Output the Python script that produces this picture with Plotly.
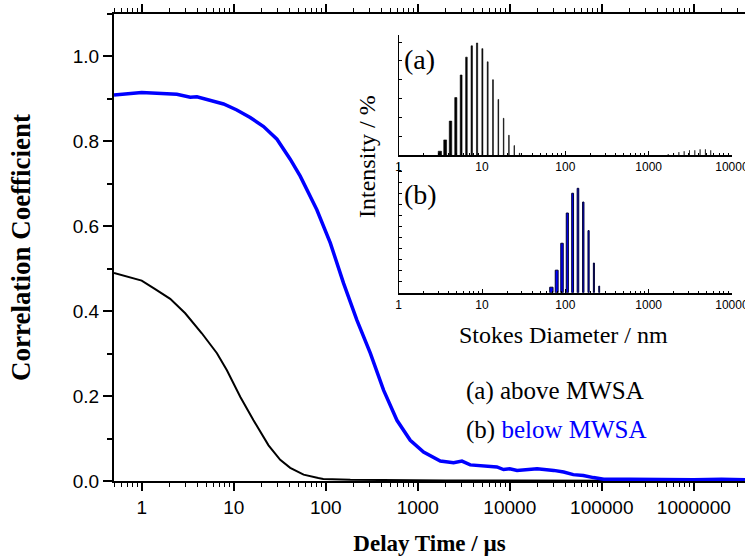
import plotly.graph_objects as go

# Correlation functions: delay time (µs) and correlation coefficient
t_above = [0.5, 1, 1.4, 2.04, 2.97, 4.5, 6.57, 8.43, 11.8, 16.4, 23.9, 32, 41.1,
           57.4, 83, 94, 185, 500, 2000, 1e4, 1e5, 1e6, 3.6e6]
g_above = [0.490, 0.472, 0.452, 0.429, 0.395, 0.348, 0.301, 0.261, 0.198, 0.143,
           0.084, 0.050, 0.031, 0.015, 0.007, 0.005, 0.003, 0.002, 0.001, 0.001,
           0.0, 0.0, 0.0]

t_below = [0.5, 1, 2.41, 3.37, 3.98, 7.75, 10.8, 15.1, 21.1, 29.5, 41.1, 52.8, 80,
           112, 156, 218, 305, 425, 594, 829, 1156, 1757, 2450, 3020, 3720, 6140,
           7240, 8550, 1e4, 1.2e4, 1.4e4, 1.98e4, 3e4, 3.85e4, 4.9e4, 6.3e4, 8.1e4,
           1.05e5, 2e5, 5e5, 1e6, 2e6, 3.6e6]
g_below = [0.909, 0.915, 0.911, 0.904, 0.905, 0.888, 0.874, 0.856, 0.835, 0.805,
           0.758, 0.718, 0.639, 0.561, 0.466, 0.379, 0.301, 0.214, 0.143, 0.096,
           0.068, 0.047, 0.043, 0.047, 0.038, 0.034, 0.033, 0.027, 0.029, 0.025,
           0.026, 0.029, 0.025, 0.021, 0.015, 0.013, 0.008, 0.004, 0.004, 0.003,
           0.003, 0.004, 0.003]

# Intensity size distributions: Stokes diameter (nm) and intensity (%)
d_above = [3.122, 3.615, 4.187, 4.849, 5.615, 6.503, 7.531, 8.721, 10.10, 11.70,
           13.54, 15.69, 18.17, 21.04, 24.36, 28.21,
           1718, 1990, 2305, 2669, 3091, 3580, 4145, 4801, 5560]
i_above = [0.4, 1.6, 3.6, 6.1, 8.5, 10.4, 11.6, 11.9, 11.3, 9.9, 8.0, 5.9, 3.9,
           2.1, 1.0, 0.2,
           0.1, 0.2, 0.3, 0.4, 0.5, 0.5, 0.6, 0.6, 0.5]

d_below = [68.06, 78.82, 91.28, 105.7, 122.4, 141.8, 164.2, 190.1, 220.2, 255.0]
i_below = [1.0, 4.1, 9.0, 14.5, 18.1, 19.0, 16.5, 11.3, 5.4, 1.2]

x_ticks = [1, 10, 100, 1000, 10000, 100000, 1000000]
x_ticktext = ["1", "10", "100", "1000", "10000", "100000", "1000000"]
y_ticks = [0.0, 0.2, 0.4, 0.6, 0.8, 1.0]
y_ticktext = ["0.0", "0.2", "0.4", "0.6", "0.8", "1.0"]
d_ticks = [1, 10, 100, 1000, 10000]
d_ticktext = ["1", "10", "100", "1000", "10000"]

BLUE = "#0000FF"
SERIF = "Liberation Serif, Times New Roman, serif"
SANS = "Liberation Sans, Arial, sans-serif"

fig = go.Figure()

fig.add_trace(go.Scatter(x=t_above, y=g_above, mode="lines",
                         line=dict(color="black", width=2), xaxis="x", yaxis="y"))
fig.add_trace(go.Scatter(x=t_below, y=g_below, mode="lines",
                         line=dict(color=BLUE, width=3.5), xaxis="x", yaxis="y"))

fig.add_trace(go.Bar(x=d_above, y=i_above,
                     marker=dict(color="black", line=dict(color="black", width=0.6)),
                     xaxis="x2", yaxis="y2"))
fig.add_trace(go.Bar(x=d_below, y=i_below,
                     marker=dict(color=BLUE, line=dict(color="#000033", width=1)),
                     xaxis="x3", yaxis="y3"))

inset_x = dict(type="log", range=[0, 4.0005], tickmode="array", tickvals=d_ticks,
               ticktext=d_ticktext, ticks="inside", ticklen=4, tickwidth=1,
               tickcolor="black", showline=True, linecolor="black", linewidth=1.5,
               showgrid=False, zeroline=False, ticklabeloverflow="allow",
               automargin=False,
               tickfont=dict(family=SANS, size=12, color="black"),
               minor=dict(dtick="D1", ticks="inside", ticklen=2, tickcolor="black",
                          showgrid=False))
inset_y = dict(ticks="inside", ticklen=3, tickcolor="black", showticklabels=False,
               showline=True, linecolor="black", linewidth=1, showgrid=False,
               zeroline=False, dtick=2)

fig.update_layout(
    width=745, height=556,
    margin=dict(l=114, r=0, t=14, b=75, autoexpand=False),
    paper_bgcolor="white", plot_bgcolor="rgba(0,0,0,0)",
    showlegend=False, bargap=0.42,
    xaxis=dict(type="log", range=[-0.30103, 6.556], tickmode="array",
               tickvals=x_ticks, ticktext=x_ticktext,
               ticks="outside", ticklen=8, tickwidth=1.5, tickcolor="black",
               showline=True, linecolor="black", linewidth=2, mirror="allticks",
               showgrid=False, zeroline=False,
               tickfont=dict(family=SANS, size=19, color="black"),
               minor=dict(dtick="D1", ticks="outside", ticklen=4, tickwidth=1.2,
                          tickcolor="black", showgrid=False),
               title=dict(text="<b>Delay Time / µs</b>", standoff=18,
                          font=dict(family=SERIF, size=23, color="black"))),
    yaxis=dict(range=[0, 1.1], tickmode="array", tickvals=y_ticks, ticktext=y_ticktext,
               ticks="outside", ticklen=9, tickwidth=1.5, tickcolor="black",
               showline=True, linecolor="black", linewidth=2,
               showgrid=False, zeroline=False,
               tickfont=dict(family=SANS, size=19, color="black"),
               minor=dict(dtick=0.1, ticks="outside", ticklen=5, tickwidth=1.5,
                          tickcolor="black", showgrid=False),
               title=dict(text="<b>Correlation Coefficient</b>", standoff=34,
                          font=dict(family=SERIF, size=27, color="black"))),
    xaxis2=dict(inset_x, domain=[0.4512, 0.9794], anchor="y2"),
    yaxis2=dict(inset_y, domain=[0.6981, 0.9550], range=[0, 12.75], anchor="x2"),
    xaxis3=dict(inset_x, domain=[0.4512, 0.9794], anchor="y3"),
    yaxis3=dict(inset_y, domain=[0.4032, 0.6809], range=[0, 23.6], anchor="x3"),
)

def px_x(px):
    return (px - 114) / 631

def px_y(py):
    return (481 - py) / 467

notes = [
    dict(text="(a)", x=px_x(402), y=px_y(60), xanchor="left", yanchor="middle", size=28),
    dict(text="(b)", x=px_x(402), y=px_y(194), xanchor="left", yanchor="middle", size=28),
    dict(text="Intensity / %", x=px_x(367), y=px_y(157), xanchor="center",
         yanchor="middle", size=24, textangle=-90),
    dict(text="Stokes Diameter / nm", x=px_x(563), y=px_y(335), xanchor="center",
         yanchor="middle", size=24),
    dict(text="(a) above MWSA", x=px_x(464), y=px_y(391), xanchor="left",
         yanchor="middle", size=25),
    dict(text="(b) <span style='color:#0000FF'>below MWSA</span>", x=px_x(464),
         y=px_y(430), xanchor="left", yanchor="middle", size=25),
]
for n in notes:
    fig.add_annotation(text=n["text"], x=n["x"], y=n["y"], xref="paper", yref="paper",
                       xanchor=n["xanchor"], yanchor=n["yanchor"], showarrow=False,
                       textangle=n.get("textangle", 0),
                       font=dict(family=SERIF, size=n["size"], color="black"))

fig.write_html("out.html")
